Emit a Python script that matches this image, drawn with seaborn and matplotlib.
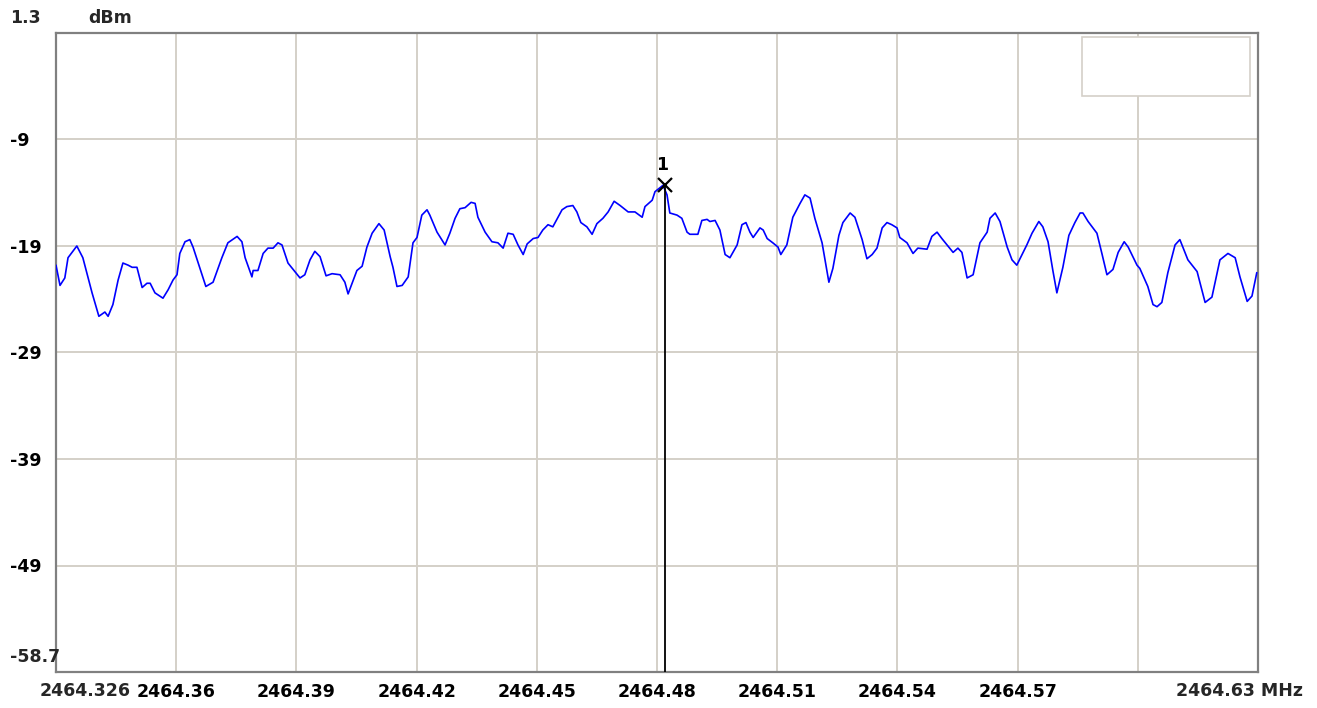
import numpy as np
import pandas as pd
import matplotlib
matplotlib.use("Agg")
import matplotlib.pyplot as plt
from matplotlib.patches import Rectangle
import seaborn as sns

# spectrum trace
start_mhz = 2464.33
offset_khz = [
    0.0, 1.0, 2.2, 3.0, 5.2, 6.7, 9.0, 10.7, 12.2, 13.0, 14.2, 15.5, 16.7, 18.0, 19.0, 20.2,
    21.5, 22.7, 23.5, 24.7, 26.7, 28.0, 29.2, 30.2, 30.9, 32.2, 33.4, 34.2, 37.4, 39.2, 41.4,
    42.9, 45.2, 46.4, 47.2, 48.9, 49.2, 50.4, 51.7, 52.9, 54.2, 55.4, 56.4, 57.9, 60.9, 62.1,
    63.4, 64.6, 65.9, 67.4, 68.9, 70.9, 72.1, 72.9, 75.1, 76.4, 77.6, 78.9, 80.6, 81.9, 83.4,
    84.1, 85.1, 86.4, 87.9, 89.1, 90.1, 91.3, 92.6, 93.3, 95.1, 97.1, 98.3, 99.6, 100.8, 102.1,
    103.6, 104.6, 105.3, 107.1, 108.8, 110.3, 111.6, 112.8, 114.1, 115.3, 116.6, 117.6, 119.1,
    120.3, 121.5, 122.8, 124.0, 126.3, 127.5, 129.0, 130.0, 131.0, 132.5, 133.8, 135.0, 136.5,
    137.8, 139.3, 140.8, 142.8, 144.5, 146.3, 147.0, 148.8, 149.5, 151.5, 152.5, 153.2, 155.0,
    156.2, 157.5, 158.2, 160.2, 161.2, 162.5, 163.2, 164.5, 165.7, 167.0, 168.2, 170.0, 171.2,
    172.2, 173.2, 174.0, 175.7, 176.5, 177.5, 178.9, 180.2, 180.9, 182.4, 183.9, 185.7, 186.9,
    188.2, 189.4, 191.2, 192.4, 192.9, 193.9, 195.4, 196.4, 198.2, 199.4, 201.2, 202.4, 203.7,
    204.9, 206.2, 207.4, 208.6, 209.9, 210.6, 212.4, 213.9, 215.1, 217.4, 218.6, 219.9, 221.1,
    222.4, 223.9, 225.1, 226.1, 227.4, 228.9, 230.6, 232.4, 233.1, 234.4, 235.6, 237.4, 238.6,
    239.8, 241.1, 242.3, 243.6, 245.3, 246.3, 247.6, 248.8, 249.8, 251.3, 252.8, 254.3, 255.6,
    256.3, 257.6, 259.8, 261.1, 262.3, 263.8, 265.1, 266.6, 267.6, 269.8, 270.5, 272.5, 273.8,
    274.8, 276.0, 277.5, 279.3, 280.5, 282.5, 284.8, 286.8, 288.5, 290.5, 292.5, 294.3, 295.5,
    297.3, 298.5, 299.7,
]
level_dbm = [
    -20.5, -22.4, -21.7, -19.8, -18.7, -19.8, -23.1, -25.3, -24.9, -25.3, -24.2, -21.9, -20.3,
    -20.5, -20.7, -20.7, -22.6, -22.2, -22.2, -23.1, -23.6, -22.8, -21.9, -21.4, -19.4, -18.3,
    -18.1, -18.8, -22.5, -22.1, -19.8, -18.4, -17.8, -18.3, -19.8, -21.6, -21.0, -21.0, -19.4,
    -18.9, -18.9, -18.4, -18.6, -20.3, -21.7, -21.4, -20.0, -19.2, -19.7, -21.5, -21.3, -21.4,
    -22.1, -23.2, -21.0, -20.6, -18.8, -17.5, -16.6, -17.2, -19.7, -20.7, -22.5, -22.4, -21.6,
    -18.4, -17.9, -15.8, -15.3, -15.8, -17.4, -18.6, -17.5, -16.1, -15.2, -15.1, -14.6, -14.7,
    -16.0, -17.4, -18.3, -18.4, -18.9, -17.5, -17.6, -18.6, -19.5, -18.5, -18.0, -17.9, -17.2,
    -16.7, -16.9, -15.3, -15.0, -14.9, -15.5, -16.5, -16.9, -17.6, -16.6, -16.1, -15.5, -14.5,
    -14.9, -15.5, -15.5, -16.0, -15.0, -14.4, -13.6, -13.0, -13.9, -15.6, -15.8, -16.1, -17.4,
    -17.6, -17.6, -16.3, -16.2, -16.4, -16.3, -17.2, -19.5, -19.8, -18.6, -16.7, -16.5, -17.4,
    -17.9, -17.0, -17.2, -18.0, -18.4, -18.8, -19.5, -18.6, -16.0, -14.7, -13.9, -14.2, -16.1,
    -18.4, -21.0, -22.1, -20.8, -17.7, -16.5, -15.6, -16.0, -18.1, -19.9, -19.5, -18.9, -17.0,
    -16.5, -16.7, -17.0, -17.9, -18.4, -19.4, -18.9, -19.0, -17.8, -17.4, -18.0, -18.6, -19.3,
    -18.9, -19.3, -21.7, -21.4, -18.4, -17.4, -16.1, -15.6, -16.4, -18.8, -20.0, -20.5, -19.5,
    -18.6, -17.5, -16.4, -16.9, -18.3, -21.0, -23.1, -20.7, -17.7, -16.5, -15.6, -15.6, -16.4,
    -17.5, -19.5, -21.4, -20.9, -19.3, -18.3, -18.8, -20.5, -20.8, -22.5, -24.2, -24.4, -24.0,
    -21.2, -18.6, -18.1, -20.0, -21.1, -24.0, -23.5, -20.0, -19.4, -19.8, -21.6, -23.9, -23.4,
    -21.2,
]

marker_mhz = 2464.482
marker_dbm = -13.0

y_top, y_bottom = 1.3, -58.7
y_grid = [-8.7, -18.7, -28.7, -38.7, -48.7]
y_grid_labels = ["-9", "-19", "-29", "-39", "-49"]
x_grid = [2464.33, 2464.36, 2464.39, 2464.42, 2464.45, 2464.48,
          2464.51, 2464.54, 2464.57, 2464.60, 2464.63]
x_grid_labels = ["", "2464.36", "2464.39", "2464.42", "2464.45", "2464.48",
                 "2464.51", "2464.54", "2464.57", "", ""]

df = pd.DataFrame({
    "freq": [start_mhz + k / 1000.0 for k in offset_khz],
    "level": level_dbm,
})

sns.set_style("white")
plt.rcParams["font.family"] = ["DejaVu Sans"]
fs = 12.5
fw = "bold"

W, H = 1317, 708
fig = plt.figure(figsize=(W / 100, H / 100), dpi=100)
ax = fig.add_axes([56 / W, 1 - 672 / H, 1202 / W, 639 / H])

sns.lineplot(data=df, x="freq", y="level", ax=ax, color="#0000ff",
             linewidth=1.2, zorder=3)

ax.set_xlim(x_grid[0], x_grid[-1])
ax.set_ylim(y_bottom, y_top)
ax.set_xlabel("")
ax.set_ylabel("")

grid_col = "#d4d0c8"
for xv in x_grid[1:-1]:
    ax.axvline(xv, color=grid_col, linewidth=1.4, zorder=1)
for yv in y_grid:
    ax.axhline(yv, color=grid_col, linewidth=1.4, zorder=1)

ax.set_xticks(x_grid)
ax.set_xticklabels(x_grid_labels, fontweight=fw)
ax.set_yticks(y_grid)
ax.set_yticklabels(y_grid_labels, fontweight=fw)
ax.tick_params(axis="both", length=0, labelsize=fs, colors="black")
ax.tick_params(axis="x", pad=8)
ax.tick_params(axis="y", pad=33)
for lab in ax.get_yticklabels():
    lab.set_horizontalalignment("left")

for sp in ax.spines.values():
    sp.set_color("#808080")
    sp.set_linewidth(1.6)
    sp.set_visible(True)

# empty legend box in the corner
box = Rectangle((0.8536, 0.9014), 0.1397, 0.0923, transform=ax.transAxes,
                facecolor="white", edgecolor=grid_col, linewidth=1.2, zorder=2)
ax.add_patch(box)

# marker 1
ax.plot([marker_mhz, marker_mhz], [y_bottom, marker_dbm], color="black",
        linewidth=1.3, zorder=4)
ax.plot(marker_mhz, marker_dbm, marker="x", color="black", markersize=10,
        markeredgewidth=1.6, zorder=5)
ax.annotate("1", (marker_mhz, marker_dbm), xytext=(-2, 8),
            textcoords="offset points", ha="center", va="bottom",
            fontsize=fs, fontweight=fw, color="black")

# corner labels
fig.text(10 / W, 1 - 18 / H, "1.3", fontsize=fs, fontweight=fw, va="center", ha="left")
fig.text(88 / W, 1 - 18 / H, "dBm", fontsize=fs, fontweight=fw, va="center", ha="left")
fig.text(10 / W, 1 - 657 / H, "-58.7", fontsize=fs, fontweight=fw, va="center", ha="left")
fig.text(85 / W, 1 - 691 / H, "2464.326", fontsize=fs, fontweight=fw, va="center", ha="center")
fig.text(1303 / W, 1 - 691 / H, "2464.63 MHz", fontsize=fs, fontweight=fw, va="center", ha="right")

fig.savefig("out.png", dpi=100)
